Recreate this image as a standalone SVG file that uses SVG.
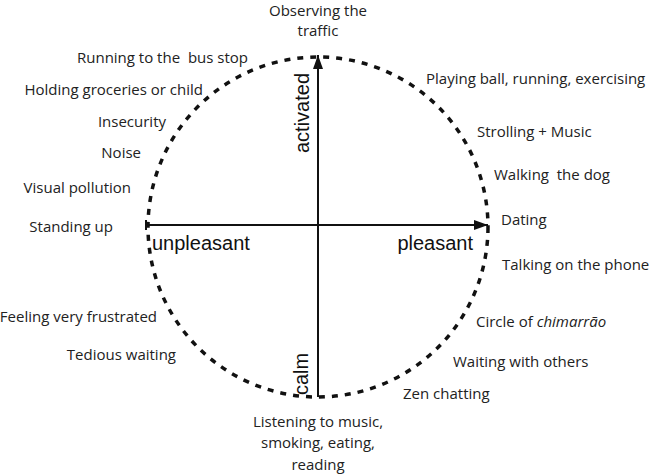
<svg xmlns="http://www.w3.org/2000/svg" width="650" height="476" viewBox="0 0 650 476">
<style>
.lbl{font-family:"Open Sans","Liberation Sans",sans-serif;font-size:15px;fill:#222}
.ax{font-family:"Liberation Sans",Arial,sans-serif;font-size:20px;fill:#111}
.end{text-anchor:end}
.mid{text-anchor:middle}
.axis{stroke:#111;stroke-width:2;fill:none}
</style>
<defs>
<marker id="arr" markerWidth="14" markerHeight="10" refX="14" refY="5" orient="auto" markerUnits="userSpaceOnUse">
<path d="M0,0 L14,5 L0,10 Z" fill="#111"/>
</marker>
</defs>
<rect width="650" height="476" fill="#fff"/>
<g id="connectors">
<circle id="circle" cx="318" cy="227" r="170" fill="none" stroke="#111" stroke-width="3.5" stroke-dasharray="6 7"/>
<line class="axis" x1="146" y1="225" x2="488" y2="225" marker-end="url(#arr)"/>
<line class="axis" x1="146" y1="220" x2="146" y2="230"/>
<line class="axis" x1="318" y1="397" x2="318" y2="55" marker-end="url(#arr)"/>
</g>
<g id="axis-labels">
<text class="ax" x="152" y="250">unpleasant</text>
<text class="ax end" x="473" y="250">pleasant</text>
<text class="ax" transform="translate(309,153) rotate(-90)">activated</text>
<text class="ax" transform="translate(308,395) rotate(-90)">calm</text>
</g>
<g id="n-observing"><text class="lbl mid" x="318" y="16">Observing the</text><text class="lbl mid" x="318" y="36">traffic</text></g>
<g id="n-running"><text class="lbl end" x="248" y="63" xml:space="preserve">Running to the  bus stop</text></g>
<g id="n-holding"><text class="lbl end" x="203" y="95">Holding groceries or child</text></g>
<g id="n-insecurity"><text class="lbl end" x="166" y="127">Insecurity</text></g>
<g id="n-noise"><text class="lbl end" x="141" y="158">Noise</text></g>
<g id="n-visual"><text class="lbl end" x="131" y="193">Visual pollution</text></g>
<g id="n-standing"><text class="lbl end" x="113" y="232">Standing up</text></g>
<g id="n-feeling"><text class="lbl end" x="157" y="322">Feeling very frustrated</text></g>
<g id="n-tedious"><text class="lbl end" x="176" y="360">Tedious waiting</text></g>
<g id="n-listening"><text class="lbl mid" x="318" y="427">Listening to music,</text><text class="lbl mid" x="318" y="448">smoking, eating,</text><text class="lbl mid" x="318" y="470">reading</text></g>
<g id="n-playing"><text class="lbl" x="426" y="84">Playing ball, running, exercising</text></g>
<g id="n-strolling"><text class="lbl" x="477" y="137">Strolling + Music</text></g>
<g id="n-walking"><text class="lbl" x="494" y="180" xml:space="preserve">Walking  the dog</text></g>
<g id="n-dating"><text class="lbl" x="501" y="225">Dating</text></g>
<g id="n-talking"><text class="lbl" x="502" y="270">Talking on the phone</text></g>
<g id="n-circle"><text class="lbl" x="476" y="327">Circle of <tspan font-style="italic">chimarrão</tspan></text></g>
<g id="n-waiting"><text class="lbl" x="453" y="367">Waiting with others</text></g>
<g id="n-zen"><text class="lbl" x="403" y="399">Zen chatting</text></g>
</svg>
